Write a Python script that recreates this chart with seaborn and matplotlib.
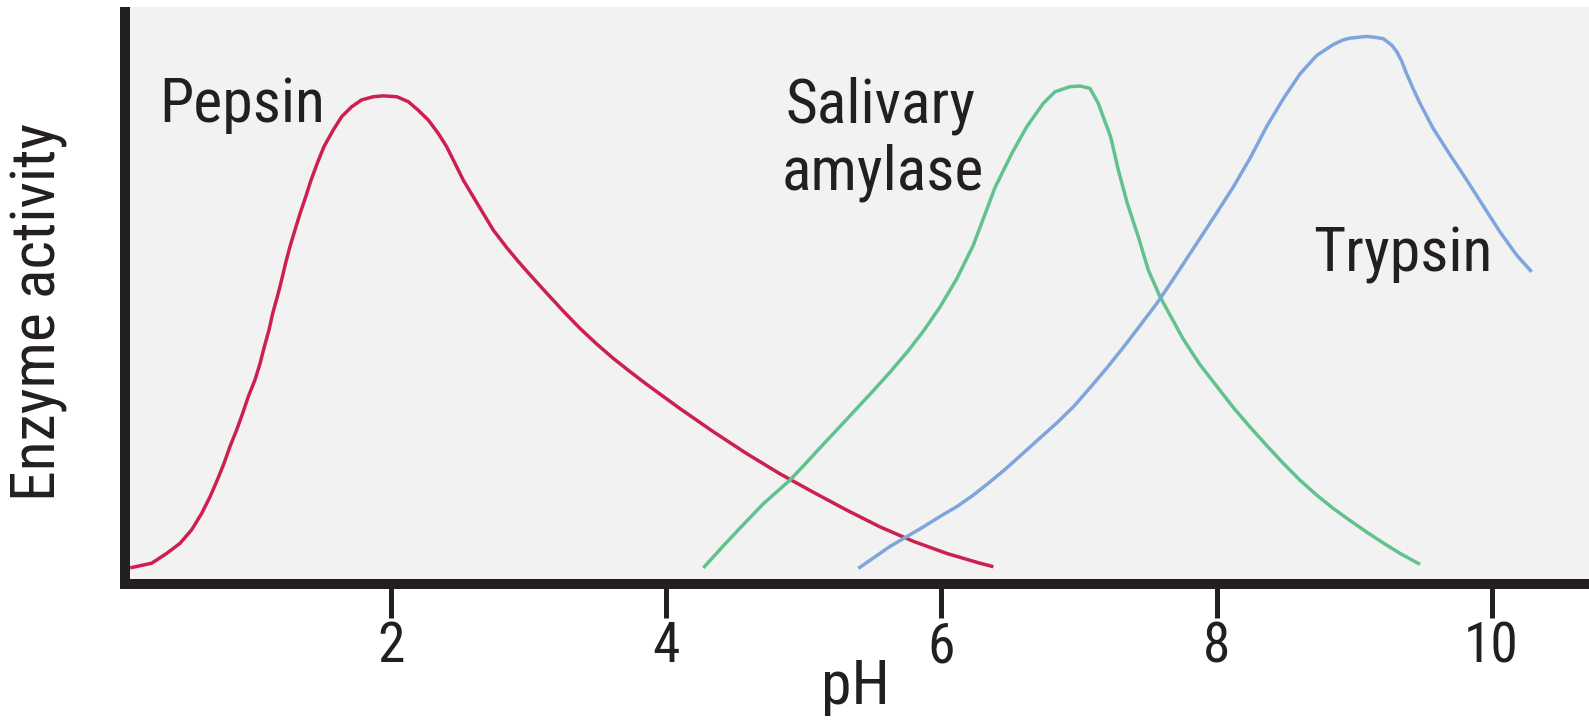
import matplotlib
matplotlib.use("Agg")
import matplotlib.pyplot as plt
import pandas as pd
import seaborn as sns

# Enzyme activity (arbitrary units) against pH
pepsin_ph = [0.10, 0.256, 0.365, 0.462, 0.547, 0.620, 0.680, 0.733, 0.782, 0.825, 0.874,
             0.918, 0.959, 1.007, 1.044, 1.075, 1.109, 1.136, 1.170, 1.201, 1.230, 1.262,
             1.298, 1.335, 1.376, 1.415, 1.460, 1.509, 1.577, 1.638, 1.710, 1.783, 1.868,
             1.940, 2.038, 2.122, 2.195, 2.268, 2.340, 2.401, 2.462, 2.522, 2.595, 2.668,
             2.740, 2.838, 2.922, 3.007, 3.129, 3.249, 3.371, 3.492, 3.613, 3.735, 3.856,
             4.098, 4.340, 4.583, 4.825, 5.068, 5.311, 5.553, 5.795, 6.038, 6.280, 6.377]
pepsin_act = [2.8, 3.6, 5.3, 7.05, 9.4, 12.25, 15.1, 18.0, 20.9, 23.8, 26.7,
              29.6, 32.5, 35.35, 38.2, 41.1, 44.0, 46.9, 49.8, 52.7, 55.6, 58.5,
              61.35, 64.2, 67.1, 70.0, 72.9, 75.8, 78.7, 81.0, 82.7, 83.9, 84.45,
              84.6, 84.45, 83.6, 82.1, 80.4, 78.1, 75.8, 72.9, 70.0, 67.1, 64.2,
              61.35, 58.3, 55.9, 53.6, 50.4, 47.3, 44.3, 41.6, 39.1, 36.8, 34.6,
              30.4, 26.4, 22.6, 19.1, 15.9, 12.8, 9.9, 7.4, 5.3, 3.6, 3.0]

amylase_ph = [4.268, 4.413, 4.535, 4.704, 4.898, 5.020, 5.140, 5.262, 5.383, 5.504, 5.625,
              5.747, 5.868, 5.989, 6.111, 6.231, 6.389, 6.511, 6.620, 6.740, 6.825, 6.935,
              7.007, 7.080, 7.140, 7.230, 7.286, 7.351, 7.431, 7.504, 7.589, 7.759, 7.880,
              8.001, 8.122, 8.244, 8.365, 8.486, 8.607, 8.729, 8.849, 8.971, 9.092, 9.213,
              9.335, 9.480]
amylase_act = [2.8, 6.6, 9.7, 13.9, 18.0, 21.1, 24.2, 27.3, 30.4, 33.5, 36.7,
               40.1, 43.8, 48.0, 52.9, 58.7, 68.7, 74.6, 79.25, 83.3, 85.3, 86.2,
               86.3, 85.9, 83.3, 77.5, 71.75, 66.0, 60.2, 54.4, 49.8, 42.4, 38.0,
               34.3, 30.6, 27.2, 24.0, 20.9, 18.0, 15.4, 13.1, 11.0, 9.0, 7.1,
               5.3, 3.4]

trypsin_ph = [5.395, 5.504, 5.625, 5.747, 5.868, 5.989, 6.111, 6.231, 6.353, 6.474, 6.595,
              6.716, 6.838, 6.959, 7.080, 7.201, 7.322, 7.444, 7.565, 7.662, 7.759, 7.880,
              8.001, 8.122, 8.244, 8.365, 8.486, 8.607, 8.729, 8.849, 8.922, 8.971, 9.092,
              9.165, 9.213, 9.274, 9.310, 9.347, 9.383, 9.431, 9.480, 9.577, 9.698, 9.820,
              9.941, 10.062, 10.183, 10.292]
trypsin_act = [2.7, 4.5, 6.5, 8.2, 9.9, 11.7, 13.4, 15.4, 17.7, 20.1, 22.7,
               25.3, 27.9, 30.7, 34.0, 37.4, 41.0, 44.8, 48.6, 52.0, 55.5, 59.9,
               64.3, 68.8, 73.8, 79.3, 84.1, 88.4, 91.6, 93.5, 94.3, 94.6, 94.9,
               94.7, 94.5, 93.4, 92.3, 90.6, 88.4, 85.8, 83.3, 78.9, 74.4, 70.0,
               65.5, 61.0, 57.0, 54.1]

enzymes = ["Pepsin", "Salivary amylase", "Trypsin"]
colors = ["#cc2150", "#62c28d", "#7ea6dc"]
tick_values = [2, 4, 6, 8, 10]
tick_labels = ["2", "4", "6", "8", "10"]

df = pd.concat([
    pd.DataFrame({"pH": pepsin_ph, "activity": pepsin_act, "enzyme": enzymes[0]}),
    pd.DataFrame({"pH": amylase_ph, "activity": amylase_act, "enzyme": enzymes[1]}),
    pd.DataFrame({"pH": trypsin_ph, "activity": trypsin_act, "enzyme": enzymes[2]}),
], ignore_index=True)

sns.set_theme(style="white")
plt.rcParams["font.family"] = ["Roboto Condensed", "DejaVu Sans"]
ink = "#231f20"

fig = plt.figure(figsize=(15.89, 7.22), dpi=100)
ax = fig.add_axes([125 / 1589, 138 / 722, 1 - 125 / 1589, 577 / 722])
ax.set_facecolor("#f2f2f2")

sns.lineplot(data=df, x="pH", y="activity", hue="enzyme", hue_order=enzymes,
             palette=dict(zip(enzymes, colors)), sort=False, estimator=None,
             legend=False, linewidth=2.5, ax=ax)
for line in ax.get_lines():
    line.set_solid_joinstyle("round")
    line.set_solid_capstyle("butt")

ax.set_xlim(0.062, 10.709)
ax.set_ylim(0, 100)

for side in ["top", "right"]:
    ax.spines[side].set_visible(False)
for side in ["left", "bottom"]:
    ax.spines[side].set_color(ink)
    ax.spines[side].set_linewidth(7.2)
ax.spines["left"].set_capstyle("butt")

ax.set_xticks(tick_values)
ax.set_xticklabels(tick_labels)
ax.set_yticks([])
ax.tick_params(axis="x", direction="out", length=24.5, width=3.6, color=ink,
               labelsize=40, labelcolor=ink, pad=1.5, bottom=True)

ax.set_xlabel("pH", fontsize=44.5, color=ink)
ax.xaxis.set_label_coords(0.4986, -0.129)
ax.set_ylabel("Enzyme activity", fontsize=44.5, color=ink)
ax.yaxis.set_label_coords(-0.039, 0.471)

label_kw = dict(fontsize=44.5, color=ink, ha="left", va="baseline")
ax.text(0.31, 80.06, "Pepsin", **label_kw)
ax.text(4.862, 80.06, "Salivary", **label_kw)
ax.text(4.84, 68.45, "amylase", **label_kw)
ax.text(8.70, 54.24, "Trypsin", **label_kw)

fig.savefig("out.png", dpi=100, facecolor="white")
